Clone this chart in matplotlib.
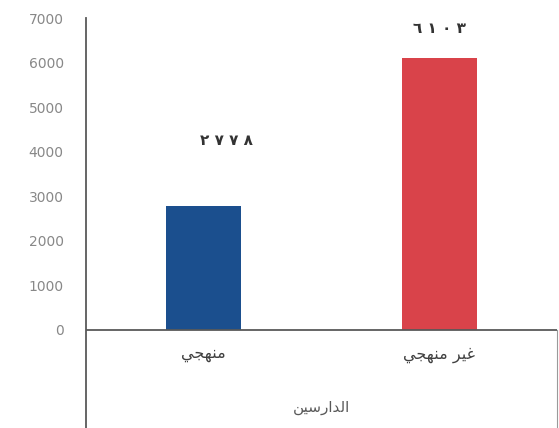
import matplotlib
matplotlib.use("Agg")
import matplotlib.pyplot as plt

plt.rcParams['font.family'] = ['DejaVu Sans', 'Noto Sans']

# Data (Arabic text pre-shaped in visual order with presentation forms)
categories = ["\uFEF2\uFEA0\uFEEC\uFEE8\uFEE3",                 # منهجي
              "\uFEF2\uFEA0\uFEEC\uFEE8\uFEE3 \uFEAE\uFEF4\uFECF"]  # غير منهجي
group_label = "\uFEE6\uFEF4\uFEB3\uFEAD\uFE8D\uFEAA\uFEDF\uFE8D"  # الدارسين
values = [2778, 6103]
value_labels = ["\u0662 \u0667 \u0667 \u0668", "\u0666 \u0661 \u0660 \u0663"]
colors = ["#1B4F8E", "#D9434A"]
yticks = [0, 1000, 2000, 3000, 4000, 5000, 6000, 7000]

W, H = 559, 428
fig = plt.figure(figsize=(W / 100, H / 100), dpi=100)
ax = fig.add_axes([86 / W, 0.0, (557 - 86) / W, (428 - 18) / H])

x = list(range(len(categories)))
bars = ax.bar(x, values, width=0.32, color=colors)
ax.set_xlim(-0.5, len(categories) - 0.5)
ax.set_ylim(-2200, 7000)

# spines
for s in ["top", "bottom"]:
    ax.spines[s].set_visible(False)
ax.spines["left"].set_color("#595959")
ax.spines["left"].set_linewidth(1.3)
ax.spines["right"].set_color("#9a9a9a")
ax.spines["right"].set_linewidth(0.8)
ax.spines["right"].set_bounds(-2200, 0)
ax.axhline(0, color="#595959", lw=1.3, zorder=3)

ax.set_yticks(yticks)
ax.set_yticklabels([str(t) for t in yticks])
ax.tick_params(axis="y", length=0, pad=16, labelsize=10, labelcolor="#888888")
ax.set_xticks([])

# category labels and group label
for xi, c in zip(x, categories):
    ax.text(xi, -560, c, ha="center", va="center", fontsize=11.5, color="#404040")
ax.text((x[0] + x[-1]) / 2, -1750, group_label, ha="center", va="center",
        fontsize=11, color="#595959")

# value labels
offsets = [(16, 47), (0, 21)]
for b, lab, off in zip(bars, value_labels, offsets):
    ax.annotate(lab, (b.get_x() + b.get_width() / 2, b.get_height()),
                xytext=off, textcoords="offset points", ha="center", va="center",
                fontsize=11, fontweight="bold", color="#333333")

fig.savefig("out.png", dpi=100)
